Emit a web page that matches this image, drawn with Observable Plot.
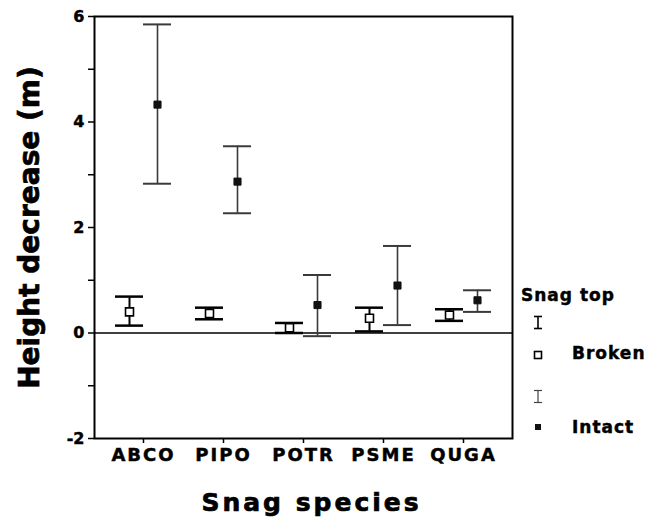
<!DOCTYPE html>
<html>
<head>
<meta charset="utf-8">
<script src="https://cdn.jsdelivr.net/npm/d3@7"></script>
<script src="https://cdn.jsdelivr.net/npm/@observablehq/plot@0.6"></script>
<style>
  html, body { margin: 0; padding: 0; background: #fff; }
  #wrap { position: relative; width: 661px; height: 529px; }
  #wrap svg { font-family: "DejaVu Sans", sans-serif; }
  #wrap svg text { stroke: #000; stroke-width: 0.45px; }
  g[aria-label="x-axis tick label"] text { letter-spacing: 2px; }
  #legend { position: absolute; left: 0; top: 0; pointer-events: none; }
</style>
</head>
<body>
<div id="wrap"></div>
<script>
// ---- data ----
const species = ["ABCO", "PIPO", "POTR", "PSME", "QUGA"];
const topTypes = ["Broken", "Intact"];
const brokenMean = [0.40, 0.37, 0.10, 0.28, 0.34];
const brokenLow  = [0.14, 0.26, 0.00, 0.03, 0.23];
const brokenHigh = [0.69, 0.48, 0.19, 0.48, 0.45];
const intactMean = [4.33, 2.87, 0.53, 0.90, 0.62];
const intactLow  = [2.83, 2.27, -0.06, 0.15, 0.40];
const intactHigh = [5.85, 3.54, 1.10, 1.65, 0.81];
const yMajor = [-2, 0, 2, 4, 6];
const yMinor = [-1, 1, 3, 5];
const yTitle = "Height decrease (m)";
const xTitle = "Snag species";
const legendTitle = "Snag top";

const broken = species.map((s, i) => ({species: s, mean: brokenMean[i], lo: brokenLow[i], hi: brokenHigh[i]}));
const intact = species.map((s, i) => ({species: s, mean: intactMean[i], lo: intactLow[i], hi: intactHigh[i]}));

const OFF = 14;

const chart = Plot.plot({
  width: 661,
  height: 529,
  marginLeft: 94,
  marginRight: 149,
  marginTop: 16,
  marginBottom: 91,
  style: {fontFamily: "DejaVu Sans", fontWeight: "bold", background: "#fff", color: "#000"},
  x: {type: "band", domain: species, paddingInner: 0.65, paddingOuter: 0.4375, label: null},
  y: {domain: [-2, 6], label: null},
  marks: [
    Plot.ruleY([0], {stroke: "#000", strokeWidth: 1.5}),
    // broken error bars
    Plot.ruleX(broken, {x: "species", y1: "lo", y2: "hi", dx: -OFF, stroke: "#000", strokeWidth: 2}),
    Plot.tickY(broken, {x: "species", y: "lo", dx: -OFF, stroke: "#000", strokeWidth: 2.5}),
    Plot.tickY(broken, {x: "species", y: "hi", dx: -OFF, stroke: "#000", strokeWidth: 2.5}),
    Plot.dot(broken, {x: "species", y: "mean", dx: -OFF, symbol: "square", r: 4.5, fill: "#fff", stroke: "#000", strokeWidth: 1.6}),
    // intact error bars
    Plot.ruleX(intact, {x: "species", y1: "lo", y2: "hi", dx: OFF, stroke: "#3a3a3a", strokeWidth: 1.6}),
    Plot.tickY(intact, {x: "species", y: "lo", dx: OFF, stroke: "#3a3a3a", strokeWidth: 2}),
    Plot.tickY(intact, {x: "species", y: "hi", dx: OFF, stroke: "#3a3a3a", strokeWidth: 2}),
    Plot.dot(intact, {x: "species", y: "mean", dx: OFF, symbol: "square", r: 4, fill: "#111", stroke: "#111", strokeWidth: 1}),
    Plot.frame({stroke: "#000", strokeWidth: 2}),
    Plot.axisY({ticks: yMajor, tickSize: 6, tickPadding: 4, tickFormat: d => String(d), fontSize: 16, fontWeight: "bold", label: null, strokeWidth: 1.5}),
    Plot.axisY({ticks: yMinor, tickSize: 6, tickFormat: () => "", label: null, strokeWidth: 1.5}),
    Plot.axisX({tickSize: 5, tickPadding: 5, fontSize: 18, fontWeight: "bold", label: null, strokeWidth: 1.5}),
    Plot.text([yTitle], {frameAnchor: "left", textAnchor: "middle", rotate: -90, dx: -64, fontSize: 28, fontWeight: "bold", fill: "#000"}),
    Plot.text([xTitle], {frameAnchor: "bottom", textAnchor: "middle", dx: 8, dy: 72, fontSize: 25, fontWeight: "bold", fill: "#000"})
  ]
});
document.getElementById("wrap").appendChild(chart);
d3.select(chart).selectAll("text").filter(function() { return this.textContent === xTitle; })
  .style("letter-spacing", "3px").style("stroke-width", "0.7px");
d3.select(chart).selectAll("text").filter(function() { return this.textContent === yTitle; })
  .style("stroke-width", "0.7px");

// ---- legend ----
const lg = d3.select("#wrap").append("svg").attr("id", "legend")
  .attr("width", 661).attr("height", 529)
  .style("font-family", "DejaVu Sans").style("font-weight", "bold");
lg.append("text").attr("x", 521).attr("y", 295).attr("dy", "0.35em")
  .attr("font-size", 17).style("letter-spacing", "1px").text(legendTitle);
function ibar(cx, y1, y2, stroke, w) {
  lg.append("line").attr("x1", cx).attr("x2", cx).attr("y1", y1).attr("y2", y2).attr("stroke", stroke).attr("stroke-width", w);
  lg.append("line").attr("x1", cx - 4).attr("x2", cx + 4).attr("y1", y1).attr("y2", y1).attr("stroke", stroke).attr("stroke-width", w);
  lg.append("line").attr("x1", cx - 4).attr("x2", cx + 4).attr("y1", y2).attr("y2", y2).attr("stroke", stroke).attr("stroke-width", w);
}
ibar(538, 316.5, 328.5, "#000", 1.6);
lg.append("rect").attr("x", 534.5).attr("y", 351.5).attr("width", 7).attr("height", 7)
  .attr("fill", "#fff").attr("stroke", "#000").attr("stroke-width", 1.6);
lg.append("text").attr("x", 572).attr("y", 353).attr("dy", "0.35em").attr("font-size", 17)
  .style("letter-spacing", "1px").text(topTypes[0]);
ibar(538, 390.5, 402.5, "#444", 1.2);
lg.append("rect").attr("x", 535).attr("y", 424).attr("width", 6).attr("height", 6).attr("fill", "#111");
lg.append("text").attr("x", 572).attr("y", 427).attr("dy", "0.35em").attr("font-size", 17)
  .style("letter-spacing", "1px").text(topTypes[1]);
lg.selectAll("text").style("stroke", "#000").style("stroke-width", "0.45px");
</script>
</body>
</html>
